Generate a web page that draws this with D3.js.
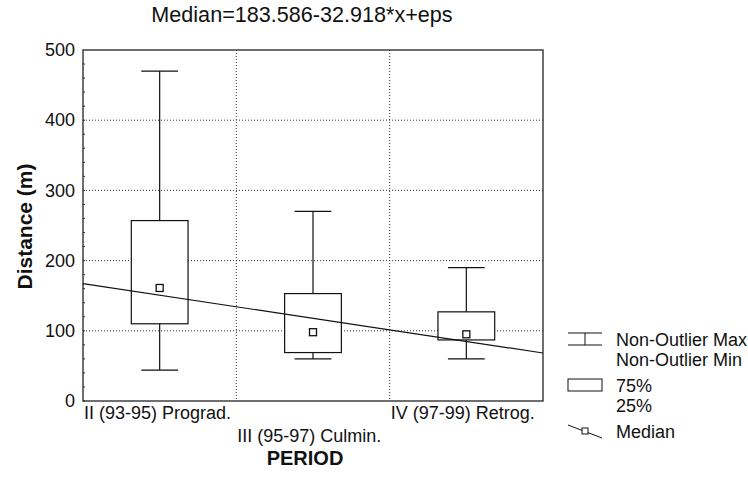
<!DOCTYPE html>
<html>
<head>
<meta charset="utf-8">
<script src="https://cdn.jsdelivr.net/npm/d3@7"></script>
<style>
  body { margin: 0; background: #fff; }
  svg { font-family: "Liberation Sans", Arial, sans-serif; }
</style>
</head>
<body>
<svg id="chart" width="748" height="482"></svg>
<script>
// box plot data
var periods = ["II (93-95) Prograd.", "III (95-97) Culmin.", "IV (97-99) Retrog."];
var maxVals = [470, 270, 190];
var q3Vals = [257, 153, 127];
var q1Vals = [110, 69, 87];
var minVals = [44, 60, 60];
var medians = [161, 98, 95];
var yTicks = [0, 100, 200, 300, 400, 500];
// regression of median on period index
var intercept = 183.586, slope = -32.918;

var margin = {top: 50, right: 205, bottom: 81, left: 83};
var width = 748 - margin.left - margin.right,
    height = 482 - margin.top - margin.bottom;

var svg = d3.select("#chart");
var g = svg.append("g")
    .attr("transform", "translate(" + margin.left + "," + margin.top + ")");

var x = d3.scaleBand().domain(periods).range([0, width]);
var xLin = d3.scaleLinear().domain([0.5, periods.length + 0.5]).range([0, width]);
var y = d3.scaleLinear().domain([0, 500]).range([height, 0]);

// grid
g.selectAll(".hgrid")
    .data(yTicks.filter(function(d) { return d > 0 && d < 500; }))
    .enter().append("line")
    .attr("x1", 0).attr("x2", width)
    .attr("y1", function(d) { return y(d); })
    .attr("y2", function(d) { return y(d); })
    .attr("stroke", "#333").attr("stroke-dasharray", "1,2");

g.selectAll(".vgrid")
    .data(d3.range(1, periods.length))
    .enter().append("line")
    .attr("x1", function(d) { return xLin(d + 0.5); })
    .attr("x2", function(d) { return xLin(d + 0.5); })
    .attr("y1", 0).attr("y2", height)
    .attr("stroke", "#333").attr("stroke-dasharray", "1,2");

// minor ticks on left axis
g.selectAll(".minor")
    .data(d3.range(0, 500, 20))
    .enter().append("line")
    .attr("x1", 0).attr("x2", 2)
    .attr("y1", function(d) { return y(d); })
    .attr("y2", function(d) { return y(d); })
    .attr("stroke", "#333");

// frame
g.append("rect")
    .attr("width", width).attr("height", height)
    .attr("fill", "none").attr("stroke", "#222").attr("stroke-width", 1.3);

// y axis
var yAxis = g.append("g")
    .call(d3.axisLeft(y).tickValues(yTicks).tickSize(0).tickPadding(8));
yAxis.select(".domain").remove();
yAxis.selectAll("text")
    .attr("font-size", 18).attr("fill", "#111")
    .attr("font-family", "Liberation Sans, Arial, sans-serif");

// category labels, staggered
g.selectAll(".xlab")
    .data(periods)
    .enter().append("text")
    .attr("x", function(d) { return x(d) + 1; })
    .attr("y", function(d, i) { return height + (i % 2 ? 41 : 18); })
    .attr("font-size", 18).attr("fill", "#111")
    .text(function(d) { return d; });

// regression line
var reg = d3.line()
    .x(function(d) { return xLin(d); })
    .y(function(d) { return y(intercept + slope * d); });

// boxes
var boxW = x.bandwidth() * 0.37,
    capW = x.bandwidth() * 0.24;

var boxes = g.selectAll(".box")
    .data(periods)
    .enter().append("g")
    .attr("transform", function(d) { return "translate(" + (x(d) + x.bandwidth() / 2) + ",0)"; });

boxes.append("line")
    .attr("x1", 0).attr("x2", 0)
    .attr("y1", function(d, i) { return y(maxVals[i]); })
    .attr("y2", function(d, i) { return y(minVals[i]); })
    .attr("stroke", "#111").attr("stroke-width", 1.2);

boxes.append("line")
    .attr("x1", -capW / 2).attr("x2", capW / 2)
    .attr("y1", function(d, i) { return y(maxVals[i]); })
    .attr("y2", function(d, i) { return y(maxVals[i]); })
    .attr("stroke", "#111").attr("stroke-width", 1.2);

boxes.append("line")
    .attr("x1", -capW / 2).attr("x2", capW / 2)
    .attr("y1", function(d, i) { return y(minVals[i]); })
    .attr("y2", function(d, i) { return y(minVals[i]); })
    .attr("stroke", "#111").attr("stroke-width", 1.2);

boxes.append("rect")
    .attr("x", -boxW / 2).attr("width", boxW)
    .attr("y", function(d, i) { return y(q3Vals[i]); })
    .attr("height", function(d, i) { return y(q1Vals[i]) - y(q3Vals[i]); })
    .attr("fill", "#fff").attr("stroke", "#111").attr("stroke-width", 1.2);

// regression line shows through boxes in the original
g.append("path")
    .datum([0.5, periods.length + 0.5])
    .attr("d", reg)
    .attr("fill", "none").attr("stroke", "#111").attr("stroke-width", 1.2);

boxes.append("rect")
    .attr("x", -3.5).attr("width", 7)
    .attr("y", function(d, i) { return y(medians[i]) - 3.5; })
    .attr("height", 7)
    .attr("fill", "#fff").attr("stroke", "#111").attr("stroke-width", 1.3);

// titles
svg.append("text")
    .attr("x", 302).attr("y", 22)
    .attr("text-anchor", "middle").attr("font-size", 21.6).attr("fill", "#111")
    .text("Median=" + intercept + (slope < 0 ? "" : "+") + slope + "*x+eps");

svg.append("text")
    .attr("transform", "translate(32," + (margin.top + height / 2 + 1) + ") rotate(-90)")
    .attr("text-anchor", "middle").attr("font-size", 21).attr("font-weight", "bold").attr("fill", "#111")
    .text("Distance (m)");

svg.append("text")
    .attr("x", 305).attr("y", 465)
    .attr("text-anchor", "middle").attr("font-size", 20).attr("font-weight", "bold").attr("fill", "#111")
    .text("PERIOD");

// legend
var lg = svg.append("g").attr("transform", "translate(568,0)");
lg.append("line").attr("x1", 0).attr("x2", 34).attr("y1", 333).attr("y2", 333).attr("stroke", "#111");
lg.append("line").attr("x1", 0).attr("x2", 34).attr("y1", 345).attr("y2", 345).attr("stroke", "#111");
lg.append("line").attr("x1", 17).attr("x2", 17).attr("y1", 333).attr("y2", 345).attr("stroke", "#111");
lg.append("rect").attr("x", 0).attr("y", 379).attr("width", 34).attr("height", 12)
    .attr("fill", "#fff").attr("stroke", "#111");
lg.append("line").attr("x1", 0).attr("x2", 34).attr("y1", 425).attr("y2", 438).attr("stroke", "#111");
lg.append("rect").attr("x", 14).attr("y", 428).attr("width", 6).attr("height", 6)
    .attr("fill", "#fff").attr("stroke", "#111");

var legendText = [["Non-Outlier Max", 346], ["Non-Outlier Min", 366], ["75%", 392], ["25%", 412], ["Median", 438]];
lg.selectAll(".lt")
    .data(legendText)
    .enter().append("text")
    .attr("x", 48).attr("y", function(d) { return d[1]; })
    .attr("font-size", 18).attr("fill", "#111")
    .text(function(d) { return d[0]; });
</script>
</body>
</html>
